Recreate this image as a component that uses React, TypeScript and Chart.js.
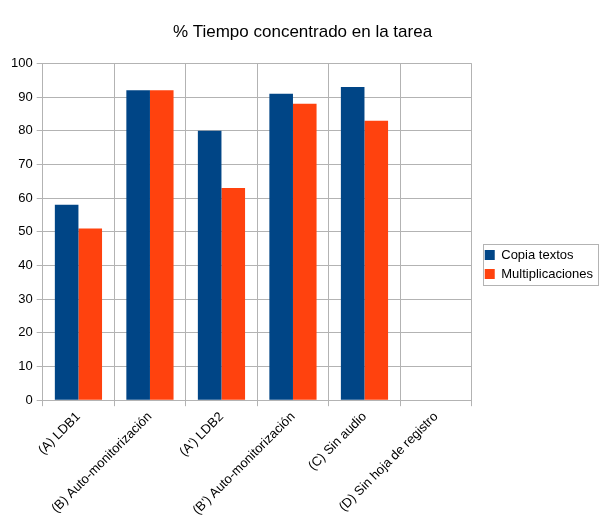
import React, { useEffect, useRef } from "react";
import { Chart, registerables } from "chart.js";

Chart.register(...registerables);

const categories = [
  "(A) LDB1",
  "(B) Auto-monitorización",
  "(A') LDB2",
  "(B') Auto-monitorización",
  "(C) Sin audio",
  "(D) Sin hoja de registro",
];
const copiaTextos: (number | null)[] = [58, 92, 80, 91, 93, null];
const multiplicaciones: (number | null)[] = [51, 92, 63, 88, 83, null];
const title = "% Tiempo concentrado en la tarea";
const seriesNames = ["Copia textos", "Multiplicaciones"];
const FONT = "'Liberation Sans', Arial, sans-serif";

const LEG_SHIFT_X = 7;
const LEG_SHIFT_Y = 4;
const LEG_EXTRA_W = 9;

const legendTweak = {
  id: "legendTweak",
  afterInit(chart: any) {
    const lg = chart.legend;
    if (!lg) return;
    const origFit = lg.fit.bind(lg);
    lg.fit = function () {
      origFit();
      this.width += LEG_EXTRA_W;
    };
    const origDraw = lg.draw.bind(lg);
    lg.draw = function () {
      const ctx = chart.ctx;
      ctx.save();
      ctx.translate(LEG_SHIFT_X, LEG_SHIFT_Y);
      origDraw();
      ctx.restore();
    };
  },
  afterDraw(chart: any) {
    const lg = chart.legend;
    if (!lg || !lg.legendHitBoxes || !lg.legendHitBoxes.length) return;
    const boxes = lg.legendHitBoxes;
    const first = boxes[0];
    const last = boxes[boxes.length - 1];
    const x0 = first.left + LEG_SHIFT_X - 2;
    const c1 = first.top + first.height / 2 + LEG_SHIFT_Y;
    const c2 = last.top + last.height / 2 + LEG_SHIFT_Y;
    const y0 = c1 - 11;
    const y1 = c2 + 11;
    const ctx = chart.ctx;
    ctx.save();
    ctx.strokeStyle = "#b3b3b3";
    ctx.lineWidth = 1;
    ctx.strokeRect(Math.round(x0) + 0.5, Math.round(y0) + 0.5, 115, Math.round(y1 - y0));
    ctx.restore();
  },
};

export default function App() {
  const ref = useRef<HTMLCanvasElement>(null);
  useEffect(() => {
    if (!ref.current) return;
    const chart = new Chart(ref.current, {
      type: "bar",
      data: {
        labels: categories,
        datasets: [
          {
            label: seriesNames[0],
            data: copiaTextos,
            backgroundColor: "#004586",
            borderWidth: 0,
          },
          {
            label: seriesNames[1],
            data: multiplicaciones,
            backgroundColor: "#ff420e",
            borderWidth: 0,
          },
        ],
      },
      options: {
        animation: false,
        responsive: true,
        maintainAspectRatio: false,
        layout: { padding: { left: 0, right: 0, top: 0, bottom: 8 } },
        datasets: {
          bar: { categoryPercentage: 0.66, barPercentage: 1 },
        },
        plugins: {
          title: {
            display: true,
            text: title,
            color: "#000000",
            font: { family: FONT, size: 17, weight: "normal" },
            padding: { top: 22, bottom: 21 },
          },
          legend: {
            position: "right",
            labels: {
              color: "#000000",
              font: { family: FONT, size: 13 },
              boxWidth: 10,
              boxHeight: 10,
              padding: 6,
            },
          },
          tooltip: { enabled: false },
        },
        scales: {
          x: {
            grid: {
              offset: true,
              color: "#b3b3b3",
              drawTicks: true,
              tickLength: 6,
            },
            border: { color: "#b3b3b3" },
            ticks: {
              color: "#000000",
              font: { family: FONT, size: 13 },
              maxRotation: 45,
              minRotation: 45,
              autoSkip: false,
            },
          },
          y: {
            min: 0,
            max: 100,
            afterFit(scale: any) {
              scale.width += 7;
            },
            ticks: {
              stepSize: 10,
              color: "#000000",
              font: { family: FONT, size: 13 },
              padding: 4,
            },
            grid: { color: "#b3b3b3", tickLength: 6 },
            border: { color: "#b3b3b3" },
          },
        },
      },
      plugins: [legendTweak],
    });
    return () => chart.destroy();
  }, []);
  return (
    <div
      style={{
        position: "fixed",
        left: 0,
        top: 0,
        width: 605,
        height: 529,
        background: "#ffffff",
      }}
    >
      <canvas ref={ref} />
    </div>
  );
}
